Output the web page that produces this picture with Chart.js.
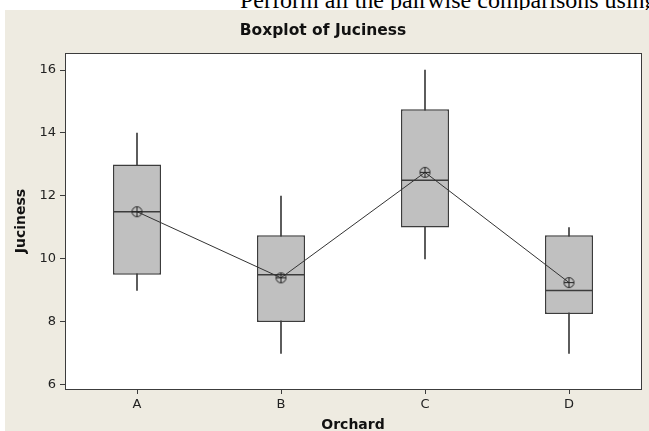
<!DOCTYPE html>
<html>
<head>
<meta charset="utf-8">
<script src="https://cdn.jsdelivr.net/npm/chart.js@4"></script>
<style>
  html, body { margin: 0; padding: 0; background: #fff; overflow: hidden; }
  #lead { position: absolute; left: 240px; top: -12px; font: 24px/24px "Liberation Serif", "Times New Roman", serif; color: #000; white-space: nowrap; }
  #wrap { position: absolute; left: 5px; top: 10px; width: 644px; height: 421px; background: #eeebe1; z-index: 1; }
</style>
</head>
<body>
<div id="lead">Perform all the pairwise comparisons using</div>
<div id="wrap"><canvas id="box" width="644" height="421"></canvas></div>
<script>
const orchards = ['A', 'B', 'C', 'D'];
const whiskerLow = [9, 7, 10, 7];
const q1 = [9.5, 8, 11, 8.25];
const medians = [11.5, 9.5, 12.5, 9];
const q3 = [13, 10.75, 14.75, 10.75];
const whiskerHigh = [14, 12, 16, 11];
const means = [11.5, 9.4, 12.75, 9.25];
const yTicks = [6, 8, 10, 12, 14, 16];

const ink = '#3c3c3c';
const tickFont = { family: 'DejaVu Sans', size: 13 };
const labelFont = { family: 'DejaVu Sans', size: 14, weight: 'bold' };

// circle with a cross, Minitab style mean symbol
const meanIcon = document.createElement('canvas');
meanIcon.width = 13; meanIcon.height = 13;
(() => {
  const c = meanIcon.getContext('2d');
  c.strokeStyle = '#222';
  c.lineWidth = 1;
  c.beginPath(); c.arc(6.5, 6.5, 5, 0, Math.PI * 2); c.stroke();
  c.beginPath();
  c.moveTo(1.5, 6.5); c.lineTo(11.5, 6.5);
  c.moveTo(6.5, 1.5); c.lineTo(6.5, 11.5);
  c.stroke();
})();

const plotFrame = {
  id: 'plotFrame',
  beforeDatasetsDraw(chart) {
    const a = chart.chartArea, ctx = chart.ctx;
    ctx.save();
    ctx.fillStyle = '#fff';
    ctx.fillRect(a.left, a.top, a.right - a.left, a.bottom - a.top);
    ctx.restore();
  },
  afterDraw(chart) {
    const a = chart.chartArea, ctx = chart.ctx;
    ctx.save();
    ctx.strokeStyle = ink;
    ctx.lineWidth = 1;
    ctx.strokeRect(Math.round(a.left) + 0.5, Math.round(a.top) + 0.5,
      Math.round(a.right - a.left), Math.round(a.bottom - a.top));
    ctx.restore();
  }
};

new Chart(document.getElementById('box'), {
  type: 'bar',
  data: {
    labels: orchards,
    datasets: [
      {
        label: 'whisker',
        data: orchards.map((_, i) => [whiskerLow[i], whiskerHigh[i]]),
        backgroundColor: ink,
        barThickness: 1,
        grouped: false,
        order: 4
      },
      {
        label: 'box',
        data: orchards.map((_, i) => [q1[i], q3[i]]),
        backgroundColor: '#c0c0c0',
        borderColor: ink,
        borderWidth: 1.5,
        borderSkipped: false,
        barPercentage: 1 / 3,
        categoryPercentage: 1,
        grouped: false,
        order: 3
      },
      {
        type: 'line',
        label: 'median',
        data: medians,
        showLine: false,
        pointStyle: 'line',
        pointRadius: 24,
        pointBorderWidth: 1.5,
        pointBorderColor: ink,
        order: 2
      },
      {
        type: 'line',
        label: 'mean',
        data: means,
        borderColor: '#333',
        borderWidth: 1,
        pointStyle: meanIcon,
        pointRadius: 5,
        order: 1
      }
    ]
  },
  options: {
    responsive: false,
    animation: false,
    events: [],
    layout: { autoPadding: false, padding: { left: 0, right: 8, top: 0, bottom: 0 } },
    plugins: {
      legend: { display: false },
      tooltip: { enabled: false },
      title: {
        display: true,
        text: 'Boxplot of Juciness',
        color: '#111',
        font: { family: 'DejaVu Sans', size: 15.5, weight: 'bold' },
        padding: { top: 11.7, bottom: 12.7 }
      }
    },
    scales: {
      x: {
        offset: true,
        grid: { offset: false, drawOnChartArea: false, drawTicks: true, tickLength: 5, tickColor: ink },
        border: { display: false },
        ticks: { color: '#222', font: tickFont, padding: 3 },
        title: { display: true, text: 'Orchard', color: '#111', font: labelFont, padding: { top: 0, bottom: -3 } },
        afterFit(scale) { scale.height = 42; }
      },
      y: {
        min: 5.87,
        max: 16.54,
        grid: { drawOnChartArea: false, drawTicks: true, tickLength: 5, tickColor: ink },
        border: { display: false },
        ticks: { color: '#222', font: tickFont, padding: 4 },
        afterBuildTicks(scale) { scale.ticks = yTicks.map(v => ({ value: v })); },
        title: { display: true, text: 'Juciness', color: '#111', font: labelFont, padding: { top: 8, bottom: 0 } },
        afterFit(scale) { scale.width = 60; }
      }
    }
  },
  plugins: [plotFrame]
});
</script>
</body>
</html>
